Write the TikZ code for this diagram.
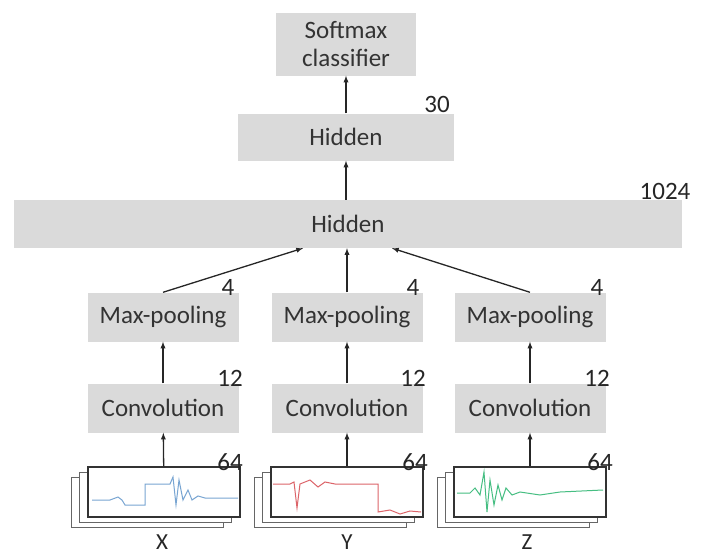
\documentclass[tikz,border=0pt]{standalone}
\usepackage{fontspec}
\setmainfont{Carlito}
\usepackage{tikz}
\usetikzlibrary{calc}

\definecolor{boxgray}{RGB}{218,218,218}
\definecolor{sigblue}{RGB}{120,165,210}
\definecolor{sigred}{RGB}{220,100,105}
\definecolor{siggreen}{RGB}{70,190,130}

\begin{document}
\begin{tikzpicture}[x=1pt, y=-1pt, font=\fontsize{25}{28}\selectfont,
    layer/.style={rectangle, fill=boxgray, text=black!80, inner sep=0pt, minimum width=151, minimum height=49},
    size/.style={text=black!85, inner sep=0pt},
    link/.style={draw, -latex, line width=1.3pt, black!85},
    sheet/.style={draw=black!80, line width=1.2pt, fill=white}]
    \path [use as bounding box] (0,0) rectangle (705,554);
    % Place nodes
    \node [layer, minimum width=140, minimum height=63, align=center] (soft) at (346,44) {Softmax\\classifier};
    \node [layer, minimum width=216, minimum height=47] (hid) at (346,137) {Hidden};
    \node [layer, minimum width=668, minimum height=48] (big) at (348,224) {Hidden};
    \node [layer] (mpx) at (163,317) {Max-pooling};
    \node [layer] (mpy) at (347,317) {Max-pooling};
    \node [layer] (mpz) at (530,317) {Max-pooling};
    \node [layer] (convx) at (163,408) {Convolution};
    \node [layer] (convy) at (347,408) {Convolution};
    \node [layer] (convz) at (530,408) {Convolution};
    % sizes
    \node [size] (n30) at (437,104) {30};
    \node [size] (n1024) at (665,191) {1024};
    \node [size] (n4x) at (228,287) {4};
    \node [size] (n4y) at (413,287) {4};
    \node [size] (n4z) at (597,287) {4};
    \node [size] (n12x) at (230,378) {12};
    \node [size] (n12y) at (413,378) {12};
    \node [size] (n12z) at (597,378) {12};
    % input signals
    \foreach \n/\x in {sigx/164, sigy/347, sigz/530} {
        \foreach \dx/\dy in {-17/10, -9/5}
            \draw [sheet, draw=black!60, line width=1pt] (\x-76+\dx,467+\dy) rectangle (\x+76+\dx,517+\dy);
        \node [sheet, inner sep=0pt, minimum width=152, minimum height=50] (\n) at (\x,492) {};
    }
    \draw [sigblue, line width=1pt] (92,500) -- (110,500) -- (118,497) -- (122,500) -- (125,505) -- (145,505) -- (145,484) -- (170,484) -- (173,477) -- (176,505) -- (179,480) -- (183,500) -- (188,490) -- (192,500) -- (198,496) -- (205,498) -- (238,498);
    \draw [sigred, line width=1pt] (273,484) -- (290,484) -- (294,482) -- (297,508) -- (300,484) -- (310,480) -- (318,487) -- (325,482) -- (335,484) -- (378,484) -- (378,512) -- (390,510) -- (400,514) -- (410,511) -- (421,512);
    \draw [siggreen, line width=1pt] (457,493) -- (470,493) -- (475,488) -- (480,495) -- (484,472) -- (487,512) -- (490,480) -- (494,505) -- (498,485) -- (502,500) -- (506,488) -- (512,495) -- (520,492) -- (540,495) -- (560,492) -- (603,490);
    \node [size] (n64x) at (230,462) {64};
    \node [size] (n64y) at (415,462) {64};
    \node [size] (n64z) at (600,462) {64};
    \node [size, font=\fontsize{23}{25}\selectfont] (lx) at (162,542) {X};
    \node [size, font=\fontsize{23}{25}\selectfont] (ly) at (347,542) {Y};
    \node [size, font=\fontsize{23}{25}\selectfont] (lz) at (527,542) {Z};
    % Draw edges
    \path [link] (hid) -- (soft);
    \path [link] (big.north -| hid.south) -- (hid.south);
    \path [link] (mpx.north) -- ([xshift=-45]big.south);
    \path [link] (mpy.north) -- (mpy.north |- big.south);
    \path [link] (mpz.north) -- ([xshift=44]big.south);
    \foreach \a in {x,y,z} {
        \path [link] (conv\a) -- (mp\a);
        \path [link] (sig\a) -- (conv\a);
    }
\end{tikzpicture}
\end{document}
